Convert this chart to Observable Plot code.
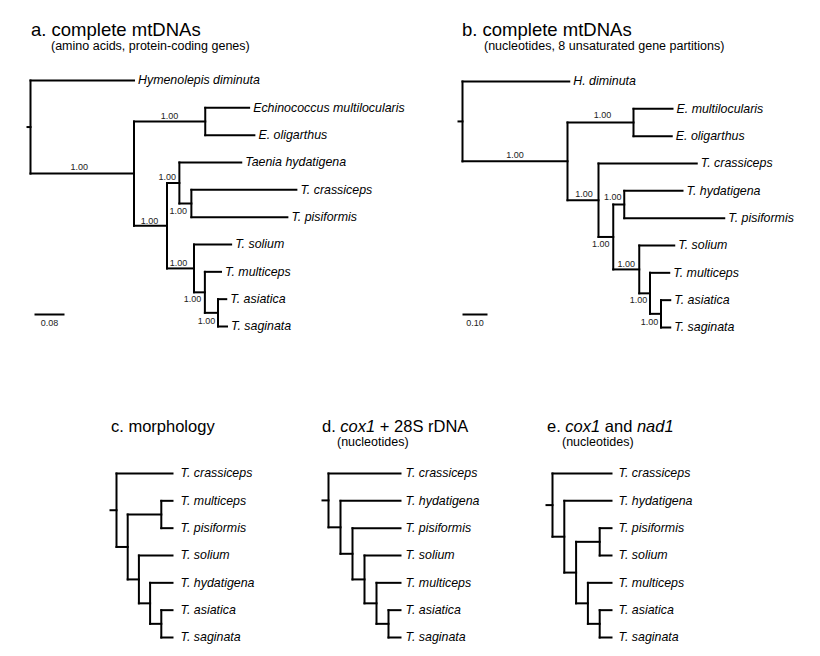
<!DOCTYPE html>
<html><head><meta charset="utf-8">
<script src="https://cdn.jsdelivr.net/npm/d3@7"></script>
<script src="https://cdn.jsdelivr.net/npm/@observablehq/plot@0.6"></script>
<style>
body{margin:0;background:#fff;}
#fig{position:relative;width:820px;height:656px;font-family:"Liberation Sans",Arial,sans-serif;color:#000;overflow:hidden;}
.title{position:absolute;white-space:nowrap;line-height:1;}
.sub{position:absolute;white-space:nowrap;line-height:1;}
.panel{position:absolute;}
</style></head><body><div id="fig"></div><script>
// ---------- DATA ----------
// edges: [parent, child, branch length, posterior support]
const treeA = [
  ["root","Hymenolepis diminuta",0.276,null],
  ["root","a1",0.276,"1.00"],
  ["a1","a2",0.190,"1.00"],
  ["a2","Echinococcus multilocularis",0.117,null],
  ["a2","E. oligarthus",0.131,null],
  ["a1","a3",0.088,"1.00"],
  ["a3","a4",0.033,"1.00"],
  ["a4","Taenia hydatigena",0.165,null],
  ["a4","a5",0.032,"1.00"],
  ["a5","T. crassiceps",0.280,null],
  ["a5","T. pisiformis",0.256,null],
  ["a3","a6",0.072,"1.00"],
  ["a6","T. solium",0.099,null],
  ["a6","a7",0.029,"1.00"],
  ["a7","T. multiceps",0.043,null],
  ["a7","a8",0.035,"1.00"],
  ["a8","T. asiatica",0.022,null],
  ["a8","T. saginata",0.024,null]
];
const treeB = [
  ["root","H. diminuta",0.427,null],
  ["root","b1",0.420,"1.00"],
  ["b1","b2",0.264,"1.00"],
  ["b2","E. multilocularis",0.156,null],
  ["b2","E. oligarthus",0.153,null],
  ["b1","b3",0.124,"1.00"],
  ["b3","T. crassiceps",0.393,null],
  ["b3","b4",0.059,"1.00"],
  ["b4","b5",0.044,"1.00"],
  ["b5","T. hydatigena",0.233,null],
  ["b5","T. pisiformis",0.400,null],
  ["b4","b6",0.104,"1.00"],
  ["b6","T. solium",0.140,null],
  ["b6","b7",0.043,"1.00"],
  ["b7","T. multiceps",0.077,null],
  ["b7","b8",0.044,"1.00"],
  ["b8","T. asiatica",0.037,null],
  ["b8","T. saginata",0.037,null]
];
// cladograms (topology only)
const treeC = [
  ["root","T. crassiceps"],["root","c1"],
  ["c1","c2"],["c2","T. multiceps"],["c2","T. pisiformis"],
  ["c1","c3"],["c3","T. solium"],["c3","c4"],
  ["c4","T. hydatigena"],["c4","c5"],
  ["c5","T. asiatica"],["c5","T. saginata"]
];
const treeD = [
  ["root","T. crassiceps"],["root","d1"],
  ["d1","T. hydatigena"],["d1","d2"],
  ["d2","T. pisiformis"],["d2","d3"],
  ["d3","T. solium"],["d3","d4"],
  ["d4","T. multiceps"],["d4","d5"],
  ["d5","T. asiatica"],["d5","T. saginata"]
];
const treeE = [
  ["root","T. crassiceps"],["root","e1"],
  ["e1","T. hydatigena"],["e1","e2"],
  ["e2","e3"],["e3","T. pisiformis"],["e3","T. solium"],
  ["e2","e4"],["e4","T. multiceps"],["e4","e5"],
  ["e5","T. asiatica"],["e5","T. saginata"]
];
const scaleBarA = [0.08];
const scaleBarB = [0.10];
const titleA = [["a. complete mtDNAs",false]];
const subA = "(amino acids, protein-coding genes)";
const titleB = [["b. complete mtDNAs",false]];
const subB = "(nucleotides, 8 unsaturated gene partitions)";
const titleC = [["c. morphology",false]];
const titleD = [["d. ",false],["cox1",true],[" + 28S rDNA",false]];
const subD = "(nucleotides)";
const titleE = [["e. ",false],["cox1",true],[" and ",false],["nad1",true]];
const subE = "(nucleotides)";

// ---------- LAYOUT ----------
const fig = document.getElementById("fig");
const FONT = "Liberation Sans, Arial, sans-serif";
const LEAF_SIZE = 12.4;

function layoutTree(edges, clado) {
  const kids = d3.group(edges, e => e[0]);
  const nodes = new Map();
  let leaf = 0;
  (function visit(id, x) {
    const out = kids.get(id) || [];
    const node = {id, x, leaf: out.length === 0};
    nodes.set(id, node);
    if (node.leaf) { node.y = leaf++; node.h = 0; return node; }
    const cs = out.map(e => visit(e[1], x + (clado ? 1 : e[2])));
    node.kids = cs;
    node.y = (cs[0].y + cs[cs.length - 1].y) / 2;
    node.h = 1 + d3.max(cs, c => c.h);
    return node;
  })("root", 0);
  if (clado) for (const n of nodes.values()) n.x = -n.h;
  const horiz = edges.map(e => {
    const p = nodes.get(e[0]), c = nodes.get(e[1]);
    return {x1: p.x, x2: c.x, y: c.y, id: e[1], support: e[3] || null};
  });
  const vert = [...nodes.values()].filter(n => !n.leaf)
    .map(n => ({x: n.x, y1: n.kids[0].y, y2: n.kids[n.kids.length - 1].y}));
  return {nodes, horiz, vert, leaves: [...nodes.values()].filter(n => n.leaf), root: nodes.get("root"), n: leaf};
}

function addText(parts, cls, left, baseline, size) {
  const d = document.createElement("div");
  d.className = cls;
  d.style.left = left + "px";
  d.style.top = (baseline - size * 0.8465) + "px";
  d.style.fontSize = size + "px";
  for (const [txt, it] of (typeof parts === "string" ? [[parts, false]] : parts)) {
    const s = document.createElement("span");
    s.textContent = txt;
    if (it) s.style.fontStyle = "italic";
    d.appendChild(s);
  }
  fig.appendChild(d);
}

function panel(cfg) {
  const t = layoutTree(cfg.edges, cfg.clado);
  const {left, top, width, height} = cfg.box;
  const xr = cfg.xRange.map(v => v - left);
  const yr = cfg.yRange.map(v => v - top);
  const xDomain = cfg.clado ? [-t.root.h, 0] : [0, 1];
  const unitPx = (xr[1] - xr[0]) / (xDomain[1] - xDomain[0]);
  const unitPy = (yr[1] - yr[0]) / (t.n - 1);
  const line = {stroke: "#000", strokeWidth: 2, strokeLinecap: "square"};
  const marks = [
    Plot.link(t.horiz, {x1: "x1", x2: "x2", y1: "y", y2: "y", ...line}),
    Plot.link(t.vert, {x1: "x", x2: "x", y1: "y1", y2: "y2", ...line}),
    Plot.link([t.root], {x1: d => d.x - cfg.stubPx / unitPx, x2: "x", y1: "y", y2: "y", ...line}),
    Plot.text(t.leaves, {x: "x", y: "y", text: "id", textAnchor: "start", dx: cfg.labelGap,
      fontStyle: "italic", fontSize: LEAF_SIZE, fill: "#000", fontFamily: FONT})
  ];
  if (cfg.place) {
    const sup = t.horiz.filter(h => h.support).map(h => {
      const [dxp, dyp] = cfg.place[h.id] || [0, -6];
      return {x: (h.x1 + h.x2) / 2 + dxp / unitPx, y: h.y + dyp / unitPy, text: h.support};
    });
    marks.push(Plot.text(sup, {x: "x", y: "y", text: "text", fontSize: 9, fill: "#222", fontFamily: FONT}));
  }
  if (cfg.bar) {
    const bx = t.root.x + cfg.barOffsetPx / unitPx;
    const by = (t.n - 1) - cfg.barUpPx / unitPy;
    const bars = cfg.bar.map(v => ({x1: bx, x2: bx + v, y: by, label: v.toFixed(2)}));
    marks.push(Plot.link(bars, {x1: "x1", x2: "x2", y1: "y", y2: "y", stroke: "#000", strokeWidth: 2}));
    marks.push(Plot.text(bars, {x: d => (d.x1 + d.x2) / 2, y: "y", text: "label", dy: 9, fontSize: 9, fill: "#222", fontFamily: FONT}));
  }
  const svg = Plot.plot({
    width, height,
    marginTop: 0, marginRight: 0, marginBottom: 0, marginLeft: 0,
    x: {domain: xDomain, range: xr, axis: null},
    y: {domain: [0, t.n - 1], range: yr, axis: null},
    style: {background: "transparent", overflow: "visible", fontFamily: FONT},
    marks
  });
  const wrap = document.createElement("div");
  wrap.className = "panel";
  wrap.style.left = left + "px";
  wrap.style.top = top + "px";
  wrap.appendChild(svg);
  fig.appendChild(wrap);
}

// titles
addText(titleA, "title", 31, 37, 18.5);
addText(subA, "sub", 51, 51, 12.5);
addText(titleB, "title", 462, 37, 18.5);
addText(subB, "sub", 484, 51, 12.5);
addText(titleC, "title", 111, 432, 16.5);
addText(titleD, "title", 322, 432, 16.5);
addText(subD, "sub", 337, 447, 12.5);
addText(titleE, "title", 547, 432, 16.5);
addText(subE, "sub", 562, 447, 12.5);

panel({edges: treeA, box: {left: 0, top: 60, width: 410, height: 290},
  xRange: [30, 405], yRange: [80, 326], labelGap: 4, stubPx: 3,
  bar: scaleBarA, barOffsetPx: 4, barUpPx: 12,
  place: {a1: [-3, -6], a2: [0, -5], a3: [-1, -5], a4: [-6, -6], a5: [-7, 8], a6: [-2, -5], a7: [-7, 7], a8: [-5, 8]}});
panel({edges: treeB, box: {left: 410, top: 60, width: 410, height: 290},
  xRange: [462, 712], yRange: [81, 327], labelGap: 4, stubPx: 4,
  bar: scaleBarB, barOffsetPx: 0, barUpPx: 13,
  place: {b1: [0, -6], b2: [2, -7], b3: [1, -6], b4: [-5, 7], b5: [-6, -7], b6: [0, -5], b7: [-6, 7], b8: [-6, 8]}});
panel({edges: treeC, clado: true, box: {left: 90, top: 455, width: 210, height: 195},
  xRange: [116, 172], yRange: [473, 637], labelGap: 8, stubPx: 6});
panel({edges: treeD, clado: true, box: {left: 300, top: 455, width: 220, height: 195},
  xRange: [328, 400], yRange: [473, 637], labelGap: 5, stubPx: 6});
panel({edges: treeE, clado: true, box: {left: 520, top: 455, width: 220, height: 195},
  xRange: [552, 611], yRange: [473, 637], labelGap: 7, stubPx: 6});
</script></body></html>
